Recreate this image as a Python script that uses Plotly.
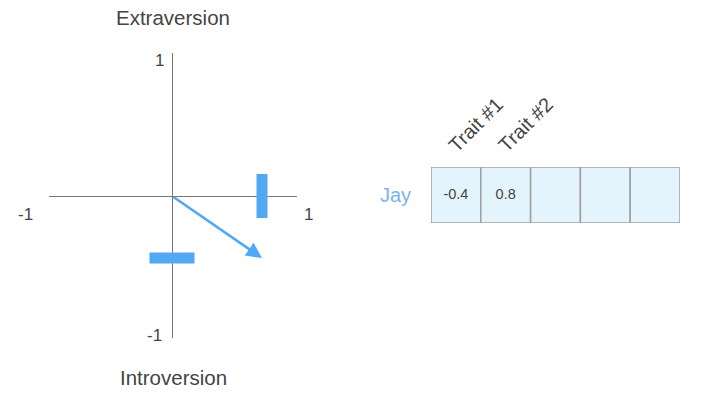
import plotly.graph_objects as go

# ---- data ----
traits = ["Trait #1", "Trait #2"]
person = "Jay"
trait_values = [-0.4, 0.8]          # Trait #1 (vertical), Trait #2 (horizontal)
n_cells = 5
axis_top_label = "Extraversion"
axis_bottom_label = "Introversion"
tick_labels = ["1", "-1", "-1", "1"]   # top, bottom, left, right

OFF = 0                      # page body margin removed via post_script
W, H = 706 - OFF, 398 - OFF
BLUE = "#52a8f2"
FONT = "Liberation Sans"

def px_x(p):
    return (p - OFF) / W

def px_y(p):
    return 1 - (p - OFF) / H

# left diagram scale
sx, sy = 112.5, 155.0
ox, oy = 172, 196
x_left, x_right = 49, 297
y_top, y_bot = 53, 338

fig = go.Figure()

vx = trait_values[1]
vy = trait_values[0]

# projection bars
fig.add_trace(go.Scatter(x=[-0.2, 0.2], y=[vy, vy], mode="lines",
                         line=dict(color=BLUE, width=11), hoverinfo="skip",
                         xaxis="x", yaxis="y", showlegend=False))
fig.add_trace(go.Scatter(x=[vx, vx], y=[-0.142, 0.142], mode="lines",
                         line=dict(color=BLUE, width=11), hoverinfo="skip",
                         xaxis="x", yaxis="y", showlegend=False))

annotations = []
# arrow
annotations.append(dict(x=vx, y=vy, ax=0, ay=0, xref="x", yref="y",
                        axref="x", ayref="y", text="", showarrow=True,
                        arrowhead=2, arrowsize=1.2, arrowwidth=2.6,
                        arrowcolor=BLUE, standoff=0, startstandoff=0))

txt = dict(family=FONT, color="#444")
annotations.append(dict(x=px_x(173), y=px_y(17), xref="paper", yref="paper",
                        xanchor="center", yanchor="middle",
                        text=axis_top_label, showarrow=False,
                        font=dict(size=20.5, **txt)))
annotations.append(dict(x=px_x(173), y=px_y(377), xref="paper", yref="paper",
                        xanchor="center", yanchor="middle",
                        text=axis_bottom_label, showarrow=False,
                        font=dict(size=20.5, **txt)))
tick_pos = [
    (166, 61, "right"),
    (164, 335, "right"),
    (25, 215, "center"),
    (308, 215, "center"),
]
for lab, (tx, ty, anc) in zip(tick_labels, tick_pos):
    annotations.append(dict(x=px_x(tx), y=px_y(ty), xref="paper", yref="paper",
                            text=lab, showarrow=False, xanchor=anc,
                            yanchor="middle",
                            font=dict(size=17, **txt)))

# table
shapes = []
for i in range(n_cells):
    shapes.append(dict(type="rect", xref="x2", yref="y2",
                       x0=i - 0.5, x1=i + 0.5, y0=-0.5, y1=0.5,
                       fillcolor="#e4f4fc", line=dict(color="#a0a0a0", width=1.5),
                       layer="below"))

fig.add_trace(go.Scatter(x=list(range(len(trait_values))), y=[0] * len(trait_values),
                         mode="text", text=[str(v) for v in trait_values],
                         textfont=dict(family=FONT, size=14.5, color="#444"),
                         xaxis="x2", yaxis="y2", showlegend=False, hoverinfo="skip"))

annotations.append(dict(x=-0.5, y=0, xref="x2", yref="y2", text=person,
                        showarrow=False, xanchor="right", xshift=-18,
                        font=dict(family=FONT, size=20, color="#7db5ea")))
cell_w = (680 - 431) / n_cells
for i, t in enumerate(traits):
    hx = 431 + cell_w * (i + 0.2)
    annotations.append(dict(x=px_x(hx), y=px_y(159), xref="paper", yref="paper",
                            text=t, showarrow=False, textangle=-45,
                            xanchor="left", yanchor="bottom",
                            font=dict(family=FONT, size=20, color="#444")))

fig.update_layout(
    width=W, height=H,
    margin=dict(l=0, r=0, t=0, b=0),
    paper_bgcolor="white", plot_bgcolor="rgba(0,0,0,0)",
    showlegend=False,
    hovermode=False,
    xaxis=dict(domain=[px_x(x_left), px_x(x_right)],
               range=[-(ox - x_left) / sx, (x_right - ox) / sx],
               showgrid=False, showticklabels=False, ticks="",
               zeroline=True, zerolinecolor="#777777", zerolinewidth=1,
               fixedrange=True),
    yaxis=dict(domain=[px_y(y_bot), px_y(y_top)],
               range=[-(y_bot - oy) / sy, (oy - y_top) / sy],
               showgrid=False, showticklabels=False, ticks="",
               zeroline=True, zerolinecolor="#777777", zerolinewidth=1,
               fixedrange=True),
    xaxis2=dict(domain=[px_x(431), px_x(680)], range=[-0.5, 4.5],
                visible=False, anchor="y2", fixedrange=True),
    yaxis2=dict(domain=[px_y(223), px_y(167)], range=[-0.5, 0.5],
                visible=False, anchor="x2", fixedrange=True),
    annotations=annotations,
    shapes=shapes,
)

fig.write_html("out.html",
               config={"displayModeBar": False, "staticPlot": True},
               post_script="document.body.style.margin='0';document.body.style.overflow='hidden';")
